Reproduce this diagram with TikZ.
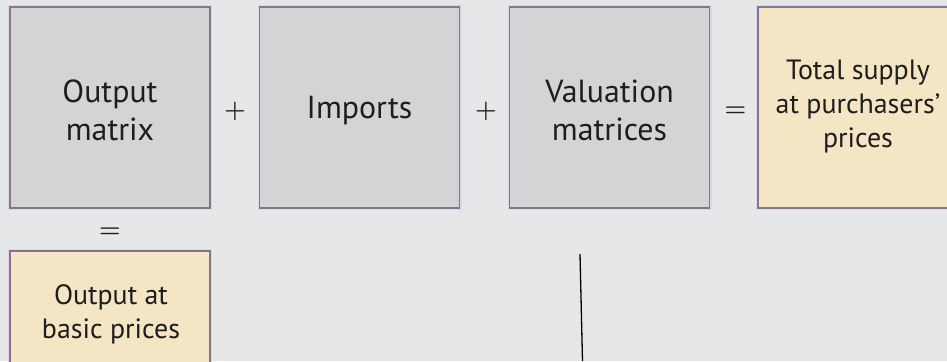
\documentclass[tikz,border=0pt]{standalone}
\usepackage{fontspec}
\setmainfont{PT Sans}
\definecolor{bg}{HTML}{E6E7E9}
\definecolor{boxgray}{HTML}{D3D4D6}
\definecolor{boxtan}{HTML}{F4E5C4}
\definecolor{edge}{HTML}{85768B}
\definecolor{glow}{HTML}{E3D3E8}
\definecolor{txt}{HTML}{1E1E1E}
\begin{document}
\begin{tikzpicture}[x=1bp,y=1bp,
  blk/.style={draw=edge, line width=1.2bp, minimum width=200bp, minimum height=201bp,
    inner sep=0pt, preaction={draw=glow, line width=4bp}},
  graybox/.style={blk, fill=boxgray},
  tanbox/.style={blk, fill=boxtan},
  bigtxt/.style={text=txt, align=center, anchor=base, inner sep=0pt,
    font=\fontsize{32}{38}\selectfont},
  smalltxt/.style={text=txt, align=center, anchor=base, inner sep=0pt,
    font=\fontsize{28}{34}\selectfont},
  op/.style={text=txt, font=\fontsize{30}{34}\selectfont\boldmath, inner sep=0pt}]
\useasboundingbox (0,0) rectangle (947,-361);
\fill[bg] (0,0) rectangle (947,-361);
\begin{scope}
\clip (0,0) rectangle (947,-361);
\node[graybox] (om) at (110,-107.5) {};
\node[graybox] (im) at (359.5,-107.5) {};
\node[graybox] (vm) at (609.5,-107.5) {};
\node[tanbox] (ts) at (858,-107.5) {};
\node[tanbox] (ob) at (110,-351.5) {};
\node[bigtxt] (omt) at (110,-140) {Output\\matrix};
\node[bigtxt] (imt) at (359.5,-118) {Imports};
\node[bigtxt] (vmt) at (609.5,-140) {Valuation\\matrices};
\node[smalltxt] (tst) at (858,-147) {Total supply\\at purchasers'\\prices};
\node[smalltxt] (obt) at (111,-338) {Output at\\basic prices};
\end{scope}
\node[op] (p1) at (235,-111) {$+$};
\node[op] (p2) at (486,-111) {$+$};
\node[op] (e1) at (735.5,-111.5) {$=$};
\node[op] (e2) at (110,-233) {$=$};
\coordinate (lt) at (580,-254);
\coordinate (lb) at (582.5,-361);
\draw[black, line width=1.3bp] (lt) -- (lb);
\end{tikzpicture}
\end{document}
